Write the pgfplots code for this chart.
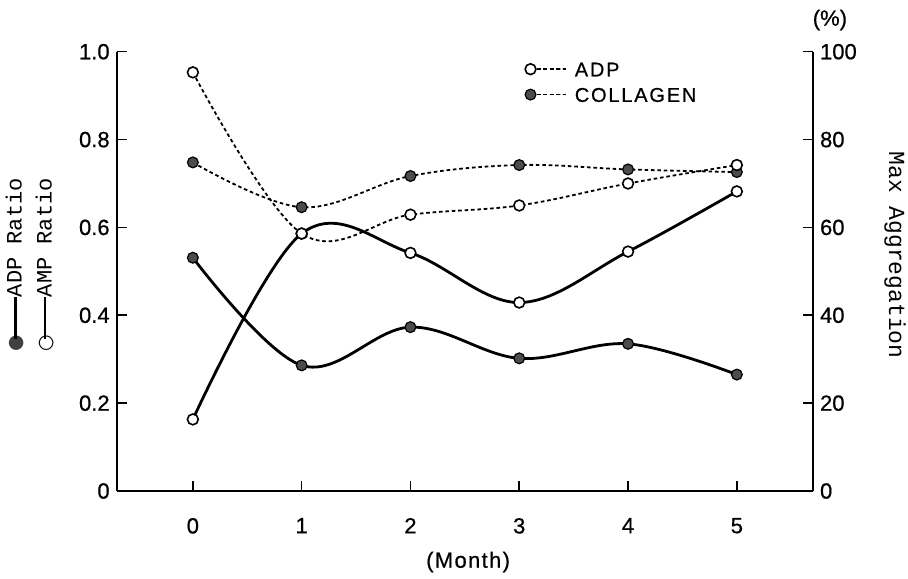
\documentclass[border=0pt]{standalone}
\usepackage{fontspec}
\setmainfont{Liberation Sans}[FakeBold=0.6]
\newfontfamily\monofont{Liberation Mono}
\newfontfamily\dejavu{DejaVu Sans}
\newfontfamily\spaced{Liberation Sans}[LetterSpace=9, FakeBold=0.6]
\newfontfamily\spacedm{Liberation Sans}[LetterSpace=6, FakeBold=0.6]
\usepackage{pgfplots}
\pgfplotsset{compat=1.18}
\usepackage{xcolor}

\newcommand{\openkey}{\raisebox{0pt}{\dejavu\fontsize{9.5}{10}\selectfont ○}}
\newcommand{\filledkey}{\raisebox{0pt}{\dejavu\fontsize{9.5}{10}\selectfont\color{black!75}●}}
\newcommand{\keyrule}{\kern-2pt\rule[2.6pt]{21pt}{1.4pt}}

\pgfplotsset{
  mystyle/.style={
    scale only axis, width=348.15pt, height=219.65pt,
    at={(0pt,0pt)}, anchor=south west,
    xmin=-0.70, xmax=5.70, clip=false,
    axis line style={-, line width=0.9pt},
    major tick style={line width=0.8pt, black},
    major tick length=5pt,
    tick label style={font=\fontsize{11}{13}\selectfont},
    /pgf/number format/assume math mode=true,
  },
  solidser/.style={line width=1.4pt, smooth, tension=0.6, mark=*, mark size=2.7pt},
  dotser/.style={line width=0.9pt, dash pattern=on 1.8pt off 1.4pt, smooth, tension=0.6, mark=*, mark size=2.7pt},
  openm/.style={mark options={solid, fill=white, draw=black, line width=0.8pt}},
  filledm/.style={mark options={solid, fill=black!70, draw=black, line width=0.6pt}},
}

\begin{document}
\begin{tikzpicture}
\path[use as bounding box] (-58.35pt,-43.5pt) rectangle (395.65pt,245.5pt);

\begin{axis}[mystyle,
  axis x line*=bottom, axis y line*=left,
  ymin=0, ymax=1,
  ytick={0,0.2,0.4,0.6,0.8,1},
  yticklabels={0,0.2,0.4,0.6,0.8,1.0},
  xtick={0,1,2,3,4,5},
  xticklabels={0,1,2,3,4,5},
  xticklabel style={yshift=-10pt},
]
\addplot[solidser, filledm] coordinates {(0,0.531)(1,0.286)(2,0.373)(3,0.302)(4,0.335)(5,0.265)};
\addplot[solidser, openm] coordinates {(0,0.163)(1,0.586)(2,0.542)(3,0.429)(4,0.545)(5,0.682)};
\end{axis}

\begin{axis}[mystyle,
  axis y line*=right, axis x line=none,
  ymin=0, ymax=100,
  ytick={0,20,40,60,80,100},
  xtick=\empty,
  reverse legend,
  legend cell align=left,
  legend style={draw=none, fill=none, inner sep=0pt, anchor=north west,
    at={(axis description cs:0.586,0.99)},
    font=\spaced\fontsize{10}{12}\selectfont,
    row sep=0pt,
    nodes={inner sep=2.7pt, text height=7.3pt, text depth=0pt}},
  legend image code/.code={\draw[#1, mark repeat=2, mark phase=1] plot coordinates {(0pt,0pt) (19pt,0pt)};},
]
\addplot[dotser, filledm] coordinates {(0,74.8)(1,64.6)(2,71.7)(3,74.2)(4,73.2)(5,72.6)};
\addlegendentry{COLLAGEN}
\addplot[dotser, openm] coordinates {(0,95.3)(1,58.6)(2,62.9)(3,65.0)(4,70.0)(5,74.2)};
\addlegendentry{ADP}
\end{axis}

\node[font=\fontsize{11}{13}\selectfont] at (356.6pt,235.5pt) {(\%)};
\node[font=\spacedm\fontsize{11}{13}\selectfont] at (175.7pt,-35.5pt) {(Month)};
\node[rotate=-90, font=\monofont\fontsize{11.5}{13}\selectfont] at (389.2pt,118pt) {Max Aggregation};
\node[rotate=90, anchor=west, inner sep=0pt, font=\monofont\fontsize{11}{13}\selectfont] at (-50.9pt,69.5pt) {\filledkey\keyrule ADP Ratio};
\node[rotate=90, anchor=west, inner sep=0pt, font=\monofont\fontsize{11}{13}\selectfont] at (-35.9pt,69.5pt) {\openkey\keyrule AMP Ratio};
\end{tikzpicture}
\end{document}
